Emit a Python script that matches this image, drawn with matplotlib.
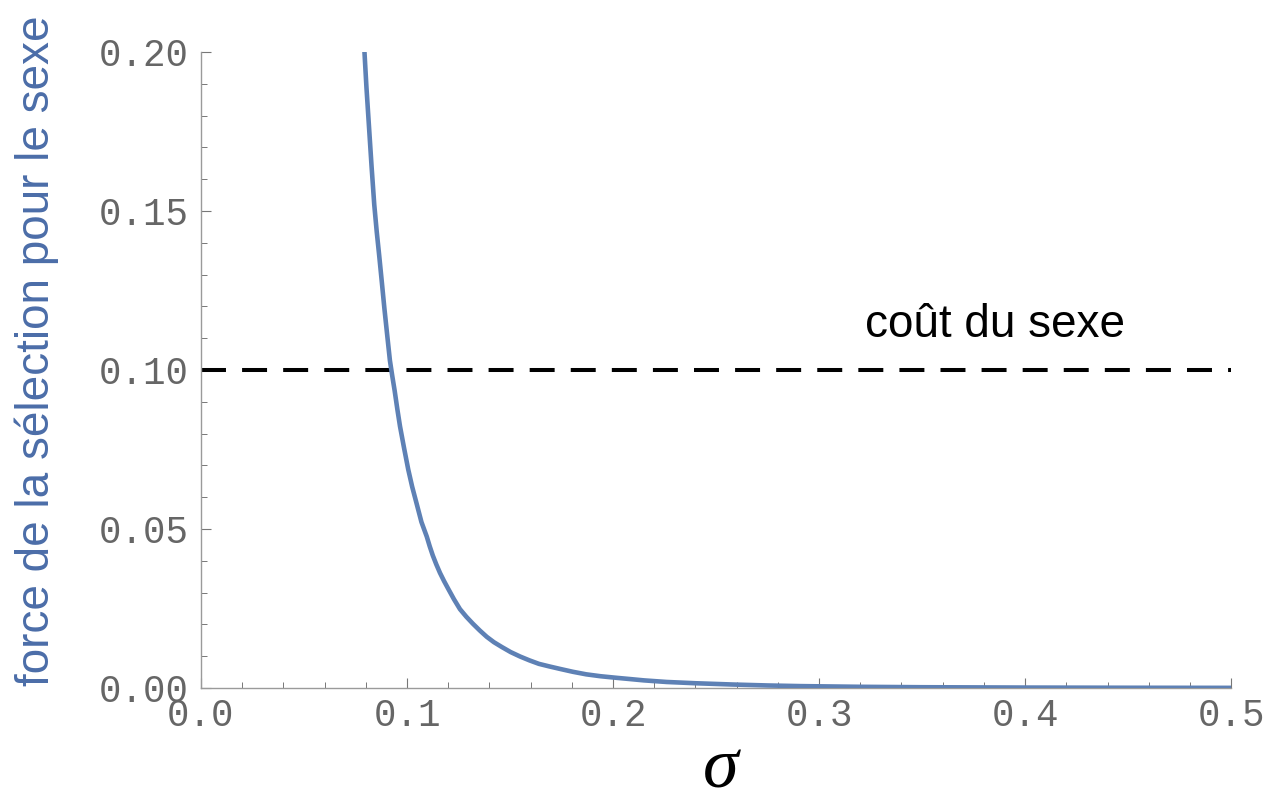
import matplotlib
matplotlib.use("Agg")
import matplotlib.pyplot as plt
from matplotlib.ticker import MultipleLocator, FormatStrFormatter

# sigma values and the corresponding strength of selection for sex
sigma = [0.0793, 0.0803, 0.0815, 0.0828, 0.0841, 0.0853, 0.0865, 0.0878,
         0.0890, 0.0903, 0.0917, 0.0928, 0.0940, 0.0953, 0.0966, 0.0985,
         0.1006, 0.1025, 0.1047, 0.1070, 0.1096, 0.1110, 0.1125, 0.1142,
         0.1160, 0.1180, 0.1200, 0.1228, 0.1257, 0.1288, 0.1320, 0.1353,
         0.1387, 0.1422, 0.1460, 0.1503, 0.1549, 0.1594, 0.1640, 0.1690,
         0.1743, 0.1805, 0.1870, 0.1940, 0.2018, 0.2085, 0.2150, 0.2260,
         0.2400, 0.2580, 0.2750, 0.2910, 0.3200, 0.3500, 0.4000, 0.4500,
         0.5000]
selection = [0.2006, 0.1890, 0.1770, 0.1640, 0.1520, 0.1435, 0.1360, 0.1275,
             0.1195, 0.1115, 0.1030, 0.0983, 0.0935, 0.0877, 0.0823, 0.0757,
             0.0687, 0.0633, 0.0579, 0.0522, 0.0476, 0.0446, 0.0417, 0.0389,
             0.0362, 0.0336, 0.0312, 0.0279, 0.0248, 0.0224, 0.0202, 0.0181,
             0.0161, 0.0144, 0.0129, 0.0113, 0.0099, 0.0087, 0.0076, 0.0068,
             0.0060, 0.0051, 0.0043, 0.0037, 0.0032, 0.0028, 0.0024, 0.0019,
             0.0015, 0.0011, 0.00080, 0.00060, 0.00038, 0.00025, 0.00014,
             0.00008, 0.00005]

cost_of_sex = 0.10
cost_label = "coût du sexe"
x_label = r"$\sigma$"
y_label = "force de la sélection pour le sexe"
x_ticks = [0.0, 0.1, 0.2, 0.3, 0.4, 0.5]
y_ticks = [0.00, 0.05, 0.10, 0.15, 0.20]

plt.rcParams["mathtext.fontset"] = "custom"
plt.rcParams["mathtext.it"] = "Liberation Serif:italic"
plt.rcParams["mathtext.rm"] = "Liberation Serif"

fig = plt.figure(figsize=(12.64, 7.91), dpi=100)
ax = fig.add_axes([0.159, 0.1302, 0.815, 0.8041])

curve_color = "#5E81B5"
ax.plot(sigma, selection, color=curve_color, lw=3.3, solid_capstyle="butt",
        solid_joinstyle="round", zorder=3)
ax.axhline(cost_of_sex, color="black", lw=2.9, dashes=(6.2, 4.0), zorder=2)
ax.text(0.3223, 0.1105, cost_label, fontsize=33, family="Liberation Sans",
        color="black", ha="left", va="baseline")

ax.set_xlim(0, 0.5)
ax.set_ylim(0, 0.2)
ax.set_xticks(x_ticks)
ax.set_yticks(y_ticks)
ax.xaxis.set_minor_locator(MultipleLocator(0.02))
ax.yaxis.set_minor_locator(MultipleLocator(0.01))
ax.xaxis.set_major_formatter(FormatStrFormatter("%.1f"))
ax.yaxis.set_major_formatter(FormatStrFormatter("%.2f"))

for side in ("top", "right"):
    ax.spines[side].set_visible(False)
for side in ("left", "bottom"):
    ax.spines[side].set_color("#9a9a9a")
    ax.spines[side].set_linewidth(1.0)

ax.tick_params(which="major", direction="in", length=7.2, width=0.8,
               color="#777777", labelcolor="#666666", labelsize=27)
ax.tick_params(which="minor", direction="in", length=4.3, width=0.7, color="#777777")
ax.tick_params(axis="y", which="major", pad=9)
ax.tick_params(axis="x", which="major", pad=7)
for lbl in ax.get_xticklabels() + ax.get_yticklabels():
    lbl.set_family("Liberation Mono")

fig.text(722 / 1264, 1 - 767 / 791, x_label, fontsize=52,
         ha="center", va="center")
fig.text(37 / 1264, 1 - 351 / 791, y_label, fontsize=33, family="Liberation Sans",
         color="#4B6DA8", rotation=90, ha="center", va="center")

fig.savefig("out.png", dpi=100, facecolor="white")
